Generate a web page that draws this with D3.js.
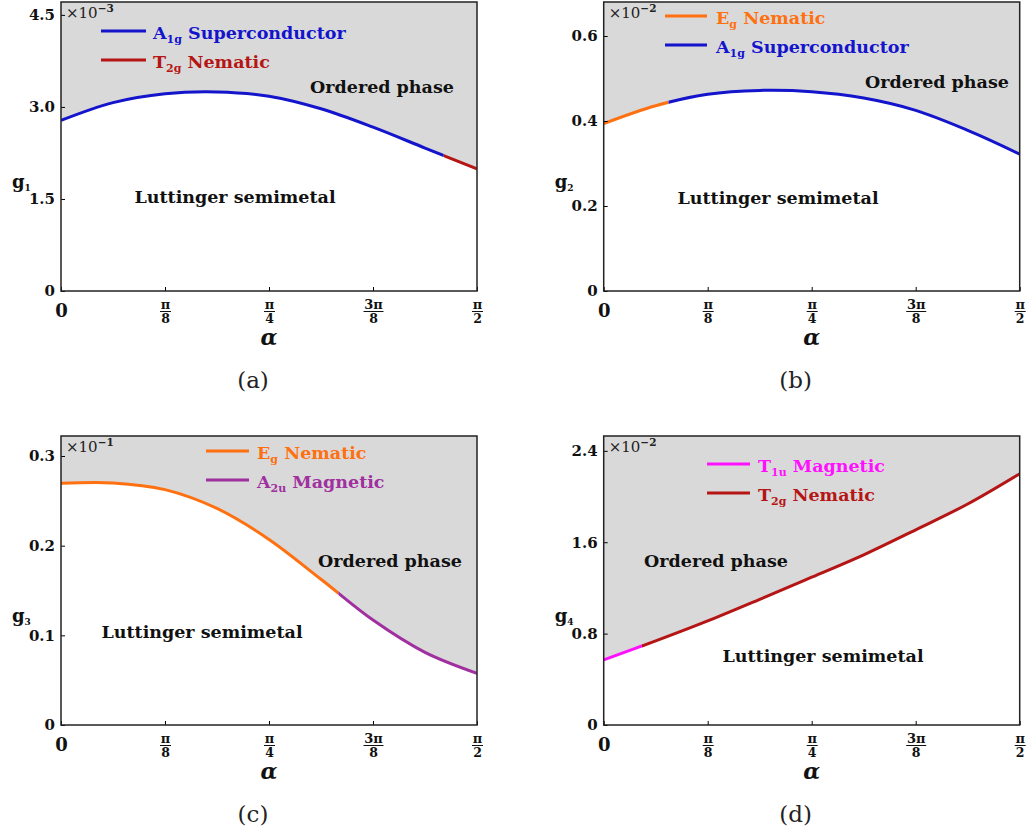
<!DOCTYPE html>
<html>
<head>
<meta charset="utf-8">
<script src="https://cdn.jsdelivr.net/npm/d3@7"></script>
<style>
  body { margin: 0; background: #fff; }
  svg text { font-family: "DejaVu Serif", serif; }
</style>
</head>
<body>
<svg id="fig" width="1030" height="838"></svg>
<script>
// --------- DATA ---------
// alpha in units of pi
const alphaGrid = [0, 1/16, 2/16, 3/16, 4/16, 5/16, 6/16, 7/16, 8/16];

const g1Vals = [2.78, 3.07, 3.215, 3.245, 3.175, 2.97, 2.67, 2.33, 1.99];     // x1e-3
const g2Vals = [0.394, 0.436, 0.463, 0.472, 0.469, 0.454, 0.425, 0.378, 0.322]; // x1e-2
const g3Vals = [0.2695, 0.270, 0.2625, 0.2415, 0.207, 0.1625, 0.117, 0.081, 0.0576]; // x1e-1
const g4Vals = [0.57, 0.736, 0.911, 1.10, 1.294, 1.49, 1.709, 1.935, 2.20];  // x1e-2

// alpha where the leading instability changes
const g1Split = 0.46, g2Split = 0.078, g3Split = 0.3333, g4Split = 0.046;

const xTickVals = [0, 1/8, 1/4, 3/8, 1/2];
const xTickNum = ['0', 'π', 'π', '3π', 'π'];
const xTickDen = ['', '8', '4', '8', '2'];

const g1Ticks = [0, 1.5, 3.0, 4.5], g1TickLabels = ['0', '1.5', '3.0', '4.5'];
const g2Ticks = [0, 0.2, 0.4, 0.6], g2TickLabels = ['0', '0.2', '0.4', '0.6'];
const g3Ticks = [0, 0.1, 0.2, 0.3], g3TickLabels = ['0', '0.1', '0.2', '0.3'];
const g4Ticks = [0, 0.8, 1.6, 2.4], g4TickLabels = ['0', '0.8', '1.6', '2.4'];

const phaseNames = {
    A1g: ['A', '1g', ' Superconductor'],
    T2g: ['T', '2g', ' Nematic'],
    Eg:  ['E', 'g', ' Nematic'],
    A2u: ['A', '2u', ' Magnetic'],
    T1u: ['T', '1u', ' Magnetic']
};
const phaseColors = {
    A1g: '#1414cc',
    T2g: '#b51515',
    Eg:  '#ff7010',
    A2u: '#a030a0',
    T1u: '#ff10ff'
};

// --------- LAYOUT ---------
const panels = [
    {id: 'a', box: [61, 477, 2, 291], yMax: 4.71, vals: g1Vals, ticks: g1Ticks, tickLabels: g1TickLabels,
     split: g1Split, phases: ['A1g', 'T2g'], legend: ['A1g', 'T2g'], exp: '−3', sub: '1',
     leg: [101, 146, 31, 153], ordered: [382, 93], lutt: [235, 203]},
    {id: 'b', box: [603.7, 1019.7, 2, 291], yMax: 0.68, vals: g2Vals, ticks: g2Ticks, tickLabels: g2TickLabels,
     split: g2Split, phases: ['Eg', 'A1g'], legend: ['Eg', 'A1g'], exp: '−2', sub: '2',
     leg: [665, 707, 16, 716], ordered: [937, 88], lutt: [778, 204]},
    {id: 'c', box: [61, 477, 436, 725], yMax: 0.3223, vals: g3Vals, ticks: g3Ticks, tickLabels: g3TickLabels,
     split: g3Split, phases: ['Eg', 'A2u'], legend: ['Eg', 'A2u'], exp: '−1', sub: '3',
     leg: [206, 249, 451, 257], ordered: [390, 567], lutt: [202, 638]},
    {id: 'd', box: [603.7, 1019.7, 436, 725], yMax: 2.53, vals: g4Vals, ticks: g4Ticks, tickLabels: g4TickLabels,
     split: g4Split, phases: ['T1u', 'T2g'], legend: ['T1u', 'T2g'], exp: '−2', sub: '4',
     leg: [707, 750, 464, 758], ordered: [716, 567], lutt: [823, 662]}
];

const svg = d3.select('#fig');
const defs = svg.append('defs');

function drawPanel(p) {
    let [x0, x1, y0, y1] = p.box;
    let width = x1 - x0, height = y1 - y0;
    let data = alphaGrid.map((a, i) => ({a: a, g: p.vals[i]}));

    let xScale = d3.scaleLinear().domain([0, 0.5]).range([0, width]);
    let yScale = d3.scaleLinear().domain([0, p.yMax]).range([height, 0]);

    let graph = svg.append('g').attr('transform', 'translate(' + x0 + ',' + y0 + ')');

    // clip regions: whole plot, and left/right of the phase change
    let sx = xScale(p.split);
    defs.append('clipPath').attr('id', 'clip-' + p.id)
        .append('rect').attr('width', width).attr('height', height);
    defs.append('clipPath').attr('id', 'clipL-' + p.id)
        .append('rect').attr('x', -5).attr('y', -5).attr('width', sx + 5).attr('height', height + 10);
    defs.append('clipPath').attr('id', 'clipR-' + p.id)
        .append('rect').attr('x', sx).attr('y', -5).attr('width', width - sx + 5).attr('height', height + 10);

    // ordered phase region (above the critical line)
    let area = d3.area()
        .x(d => xScale(d.a))
        .y0(0)
        .y1(d => yScale(d.g))
        .curve(d3.curveCatmullRom.alpha(0.5));
    graph.append('path')
        .attr('fill', '#d9d9d9')
        .attr('clip-path', 'url(#clip-' + p.id + ')')
        .attr('d', area(data));

    let line = d3.line()
        .x(d => xScale(d.a))
        .y(d => yScale(d.g))
        .curve(d3.curveCatmullRom.alpha(0.5));
    let inner = graph.append('g').attr('clip-path', 'url(#clip-' + p.id + ')');
    ['clipL-', 'clipR-'].forEach((c, i) => {
        inner.append('path')
            .attr('fill', 'none')
            .attr('stroke', phaseColors[p.phases[i]])
            .attr('stroke-width', 3)
            .attr('clip-path', 'url(#' + c + p.id + ')')
            .attr('d', line(data));
    });

    // axes
    let yAxis = d3.axisLeft(yScale)
        .tickValues(p.ticks)
        .tickFormat((d, i) => p.tickLabels[i])
        .tickSizeInner(-4).tickSizeOuter(0).tickPadding(6);
    let ya = graph.append('g').call(yAxis);
    ya.select('.domain').remove();
    ya.selectAll('text').attr('font-family', '"DejaVu Serif", serif')
        .attr('font-weight', 'bold').attr('font-size', 15).attr('fill', '#111');

    let xAxis = d3.axisBottom(xScale)
        .tickValues(xTickVals).tickFormat('')
        .tickSizeInner(-4).tickSizeOuter(0);
    let xa = graph.append('g').attr('transform', 'translate(0,' + height + ')').call(xAxis);
    xa.select('.domain').remove();
    xa.selectAll('.tick').each(function(d, i) {
        let t = d3.select(this);
        if (xTickDen[i] === '') {
            t.append('text').attr('y', 26).attr('text-anchor', 'middle')
                .attr('font-weight', 'bold').attr('font-size', 18).attr('fill', '#111')
                .text(xTickNum[i]);
            return;
        }
        t.append('text').attr('y', 18).attr('text-anchor', 'middle')
            .attr('font-weight', 'bold').attr('font-size', 13).attr('fill', '#111')
            .text(xTickNum[i]);
        let bw = xTickNum[i].length > 1 ? 20 : 11;
        t.append('line').attr('x1', -bw / 2).attr('x2', bw / 2).attr('y1', 20.5).attr('y2', 20.5)
            .attr('stroke', '#111').attr('stroke-width', 1);
        t.append('text').attr('y', 32).attr('text-anchor', 'middle')
            .attr('font-weight', 'bold').attr('font-size', 12.5).attr('fill', '#111')
            .text(xTickDen[i]);
    });

    // frame
    graph.append('rect')
        .attr('width', width).attr('height', height)
        .attr('fill', 'none').attr('stroke', '#222').attr('stroke-width', 1.5);

    // scale factor
    let mult = svg.append('text').attr('x', x0 + 5).attr('y', y0 + 16)
        .attr('font-size', 15).attr('fill', '#222');
    mult.append('tspan').text('×10');
    mult.append('tspan').attr('dy', -6).attr('font-size', 10.5).attr('font-weight', 'bold').text(p.exp);

    // legend
    let [lx0, lx1, ly, tx] = p.leg;
    p.legend.forEach((k, i) => {
        let yy = ly + i * 29;
        svg.append('line').attr('x1', lx0).attr('x2', lx1).attr('y1', yy).attr('y2', yy)
            .attr('stroke', phaseColors[k]).attr('stroke-width', 3);
        let t = svg.append('text').attr('x', tx).attr('y', yy + 8)
            .attr('font-weight', 'bold').attr('font-size', 17.5).attr('fill', phaseColors[k]);
        let nm = phaseNames[k];
        t.append('tspan').text(nm[0]);
        t.append('tspan').attr('dy', 4).attr('font-size', 11).text(nm[1]);
        t.append('tspan').attr('dy', -4).text(nm[2]);
    });

    // region labels
    svg.append('text').attr('x', p.ordered[0]).attr('y', p.ordered[1])
        .attr('text-anchor', 'middle').attr('font-weight', 'bold').attr('font-size', 17.5)
        .attr('fill', '#111').text('Ordered phase');
    svg.append('text').attr('x', p.lutt[0]).attr('y', p.lutt[1])
        .attr('text-anchor', 'middle').attr('font-weight', 'bold').attr('font-size', 17.5)
        .attr('fill', '#111').text('Luttinger semimetal');

    // axis titles
    let gl = svg.append('text').attr('x', x0 - 49).attr('y', y0 + 186)
        .attr('font-weight', 'bold').attr('font-size', 18).attr('fill', '#111');
    gl.append('tspan').text('g');
    gl.append('tspan').attr('dy', 3).attr('font-size', 9).text(p.sub);

    svg.append('text').attr('x', x0 + width / 2).attr('y', y1 + 54)
        .attr('text-anchor', 'middle').attr('font-weight', 'bold').attr('font-style', 'italic')
        .attr('font-size', 22).attr('fill', '#111').text('α');

    svg.append('text').attr('x', x0 + width / 2 - 16).attr('y', y1 + 97)
        .attr('text-anchor', 'middle').attr('font-size', 23).attr('fill', '#222')
        .text('(' + p.id + ')');
}

panels.forEach(drawPanel);
</script>
</body>
</html>
